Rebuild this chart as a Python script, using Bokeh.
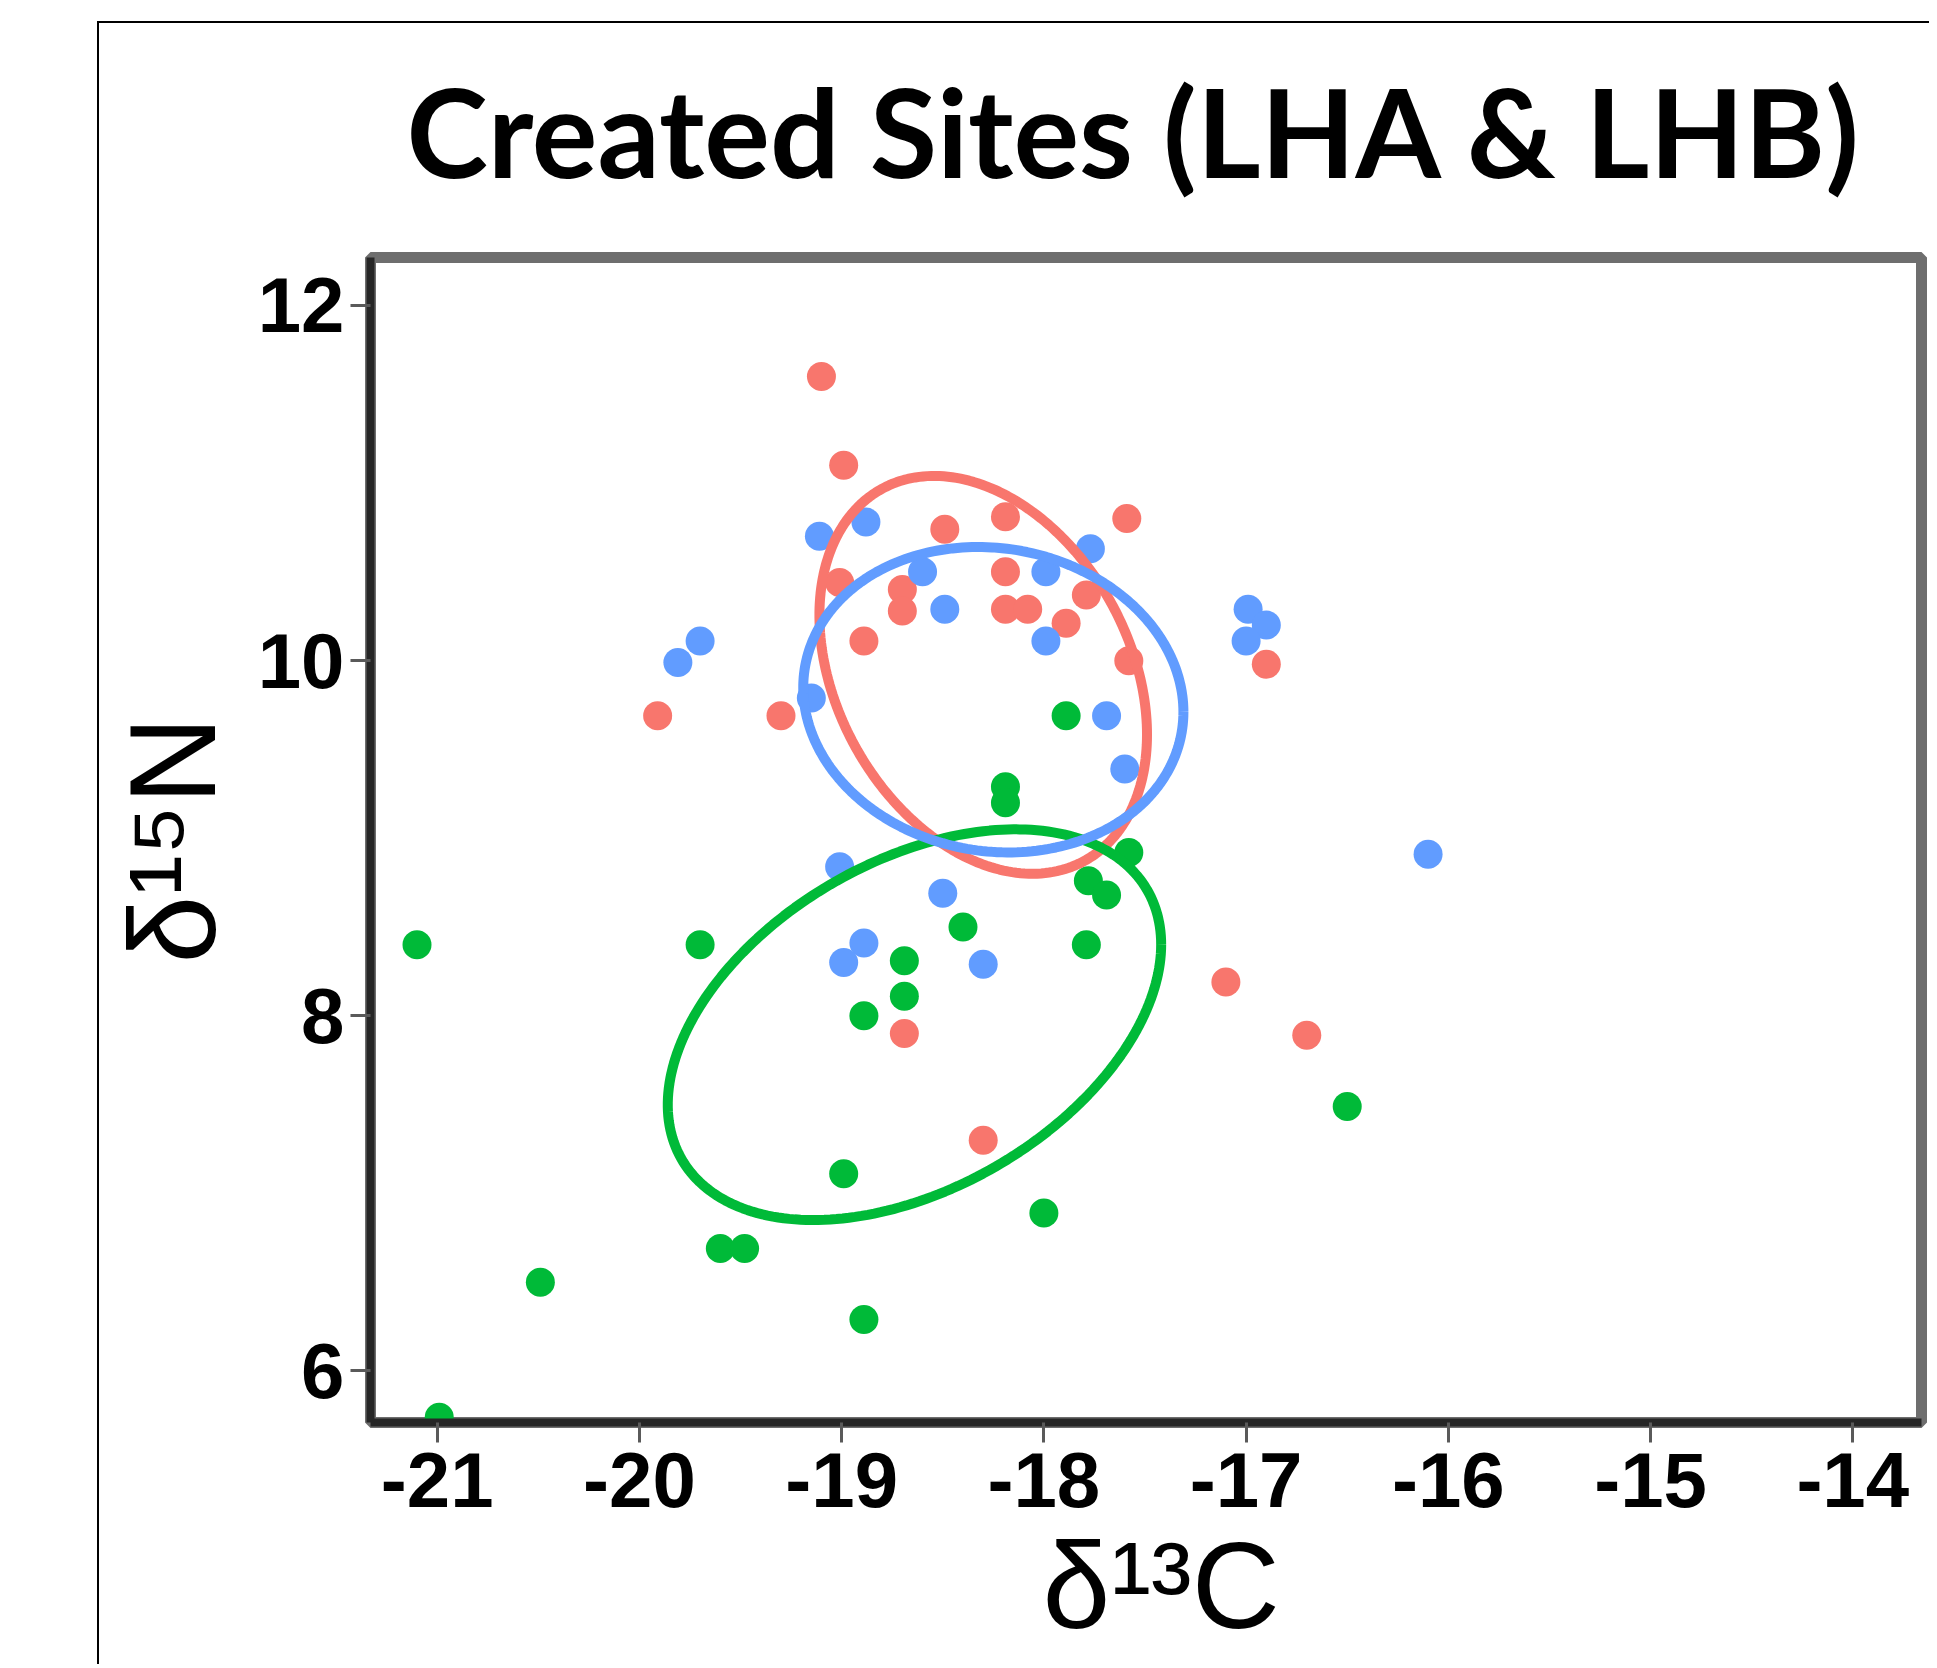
import numpy as np
from bokeh.plotting import figure
from bokeh.models import Range1d, FixedTicker, Title
from bokeh.embed import file_html
from bokeh.resources import INLINE

title_text = "Created Sites (LHA & LHB)"
x_label = "δ¹³C"
y_label = "δ¹⁵N"
x_ticks = [-21, -20, -19, -18, -17, -16, -15, -14]
y_ticks = [6, 8, 10, 12]

red_x = [-19.10, -18.99, -18.19, -17.59, -18.49, -19.01, -18.70, -18.70, -18.19, -18.19, -18.08,
         -17.79, -17.89, -18.89, -17.58, -16.90, -19.91, -19.30, -17.10, -16.70, -18.69, -18.30]
red_y = [11.60, 11.10, 10.81, 10.80, 10.74, 10.44, 10.40, 10.28, 10.50, 10.29, 10.29,
         10.37, 10.21, 10.11, 10.00, 9.98, 9.69, 9.69, 8.19, 7.89, 7.90, 7.30]

blue_x = [-19.11, -18.88, -18.49, -17.99, -17.77, -17.99, -19.70, -19.81, -19.15, -16.99, -16.90,
          -17.00, -17.69, -17.60, -16.10, -19.01, -18.50, -18.89, -18.99, -18.30, -18.60]
blue_y = [10.70, 10.78, 10.29, 10.50, 10.63, 10.11, 10.11, 9.99, 9.79, 10.29, 10.20,
          10.11, 9.69, 9.39, 8.91, 8.84, 8.69, 8.41, 8.30, 8.29, 10.50]

green_x = [-17.89, -18.19, -18.19, -17.78, -17.69, -18.40, -17.79, -21.10, -19.70, -18.69, -18.69,
           -18.89, -16.50, -18.99, -18.00, -19.60, -19.48, -20.49, -18.89, -20.99, -17.58]
green_y = [9.69, 9.29, 9.20, 8.76, 8.68, 8.50, 8.40, 8.40, 8.40, 8.31, 8.11,
           8.00, 7.49, 7.11, 6.89, 6.69, 6.69, 6.50, 6.29, 5.74, 8.92]

# ellipse parameters: centre, half-extent in x and y, correlation
red_ell = dict(cx=-18.30, cy=9.92, ax=0.81, ay=1.12, rho=-0.30)
green_ell = dict(cx=-18.64, cy=7.95, ax=1.22, ay=1.10, rho=0.41)
blue_ell = dict(cx=-18.25, cy=9.78, ax=0.94, ay=0.86, rho=-0.08)

RED = "#F8766D"
GREEN = "#00BA38"
BLUE = "#619CFF"

X_LO, X_HI = -21.33, -13.66
Y_LO, Y_HI = 5.71, 12.27

p = figure(width=1929, height=1664,
           x_range=Range1d(X_LO, X_HI), y_range=Range1d(Y_LO, Y_HI),
           output_backend="svg", toolbar_location=None,
           min_border_left=370, min_border_right=8, min_border_top=255, min_border_bottom=242)
# thin outer frame of the original picture (left and top edges), drawn behind the canvas
p.styles = {
    "background-image": "linear-gradient(#000000, #000000), linear-gradient(#000000, #000000)",
    "background-size": "2px 100%, 100% 2px",
    "background-position": "97px 21px, 97px 21px",
    "background-repeat": "no-repeat",
}
p.border_fill_alpha = 0

p.xgrid.visible = False
p.ygrid.visible = False
p.background_fill_color = "white"
p.outline_line_color = "#6e6e6e"
p.outline_line_width = 11
p.outline_line_alpha = 1.0

for ax in (p.xaxis[0], p.yaxis[0]):
    ax.axis_line_color = "#262626"
    ax.axis_line_width = 8
    ax.major_tick_line_color = "#5a5a5a"
    ax.major_tick_line_width = 3
    ax.major_tick_in = 0
    ax.major_tick_out = 20
    ax.minor_tick_line_color = None
    ax.major_label_text_font = "Liberation Sans"
    ax.major_label_text_font_style = "bold"
    ax.major_label_text_font_size = "78px"
    ax.major_label_text_color = "black"
    ax.axis_label_text_font = "Liberation Sans"
    ax.axis_label_text_font_style = "normal"
    ax.axis_label_text_font_size = "122px"
    ax.axis_label_text_color = "black"

p.xaxis.ticker = FixedTicker(ticks=x_ticks)
p.yaxis.ticker = FixedTicker(ticks=y_ticks)
p.xaxis.major_label_overrides = {t: str(t) for t in x_ticks}
p.yaxis.major_label_overrides = {t: str(t) for t in y_ticks}
p.yaxis.axis_label = y_label
p.xaxis.major_label_standoff = 10
p.yaxis.major_label_standoff = 6
p.yaxis.axis_label_standoff = 14

# x-axis title as a title below the axis
xt = Title(text=x_label, align="left", offset=672, standoff=13,
           text_font="Liberation Sans", text_font_style="normal",
           text_font_size="122px", text_color="black")
p.add_layout(xt, "below")

p.title.text = title_text
p.title.text_font = "Lato"
p.title.text_font_style = "bold"
p.title.text_font_size = "123px"
p.title.text_color = "black"
p.title.align = "left"
p.title.offset = 36
p.title.standoff = 108

for xs, ys, c in ((red_x, red_y, RED), (green_x, green_y, GREEN), (blue_x, blue_y, BLUE)):
    p.scatter(xs, ys, size=29, color=c, line_color=None)

t = np.linspace(0, 2 * np.pi, 240)
for e, c in ((red_ell, RED), (green_ell, GREEN), (blue_ell, BLUE)):
    ex = e["cx"] + e["ax"] * np.cos(t)
    ey = e["cy"] + e["ay"] * (e["rho"] * np.cos(t) + np.sqrt(1 - e["rho"] ** 2) * np.sin(t))
    p.line(ex, ey, line_color=c, line_width=10)

open("out.html", "w").write(file_html(p, INLINE))
